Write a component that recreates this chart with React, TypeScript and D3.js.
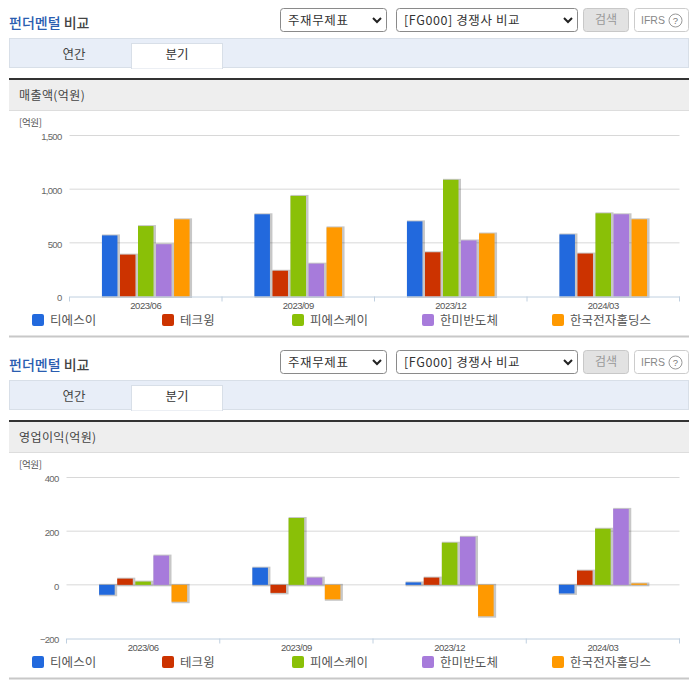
import * as d3 from 'd3';
import { useEffect, useRef } from 'react';

const periods = ['2023/06', '2023/09', '2023/12', '2024/03'];
const companies = ['티에스이', '테크윙', '피에스케이', '한미반도체', '한국전자홀딩스'];
const colors = ['#2269dd', '#cc3300', '#8ac007', '#a77bdb', '#ff9900'];

// 매출액 per company, same order as periods
const salesTse = [569, 766, 700, 578];
const salesTechwing = [390, 240, 412, 400];
const salesPsk = [656, 937, 1087, 775];
const salesHanmi = [487, 306, 522, 766];
const salesKec = [719, 644, 587, 719];
const salesTicks = [0, 500, 1000, 1500];

// 영업이익 per company
const profitTse = [-37, 64, 9, -32];
const profitTechwing = [23, -30, 27, 53];
const profitPsk = [12, 249, 157, 209];
const profitHanmi = [109, 27, 179, 283];
const profitKec = [-63, -54, -117, 5];
const profitTicks = [-200, 0, 200, 400];

const FONT = '"Noto Sans CJK KR", "Noto Sans", sans-serif';
const NUM_FONT = '"Liberation Sans", Arial, sans-serif';
const legendX = [32, 162, 292, 422, 552];

interface ChartProps {
  series: number[][];
  ticks: number[];
  left: number;
  top: number;
  bottom: number;
}

function BarChart({ series, ticks, left, top, bottom }: ChartProps) {
  const ref = useRef<SVGGElement>(null);

  useEffect(() => {
    if (!ref.current) {
      return;
    }
    const g = d3.select(ref.current);
    g.selectAll('*').remove();

    const right = 679.5;
    const x = d3.scaleBand<string>().domain(periods).range([left, right]);
    const inner = d3
      .scaleBand<string>()
      .domain(companies)
      .range([0, x.bandwidth()])
      .paddingInner(0.14)
      .paddingOuter(1.8);
    const y = d3
      .scaleLinear()
      .domain([ticks[0], ticks[ticks.length - 1]])
      .range([bottom, top]);

    // Grid lines
    g.append('g')
      .selectAll('line')
      .data(ticks.slice(1))
      .join('line')
      .attr('x1', left)
      .attr('x2', right)
      .attr('y1', (d) => y(d))
      .attr('y2', (d) => y(d))
      .attr('stroke', '#d8d8d8');

    // Y labels
    const yAxis = g
      .append('g')
      .attr('transform', `translate(${left - 8},0)`)
      .call(
        d3
          .axisLeft(y)
          .tickValues(ticks)
          .tickSize(0)
          .tickPadding(0)
          .tickFormat((d) => d3.format(',')(d as number))
      );
    yAxis.select('.domain').remove();
    yAxis
      .selectAll('text')
      .attr('fill', '#666')
      .attr('dy', '0.45em')
      .style('font-size', '9.5px')
      .style('letter-spacing', '-0.7px')
      .style('font-family', NUM_FONT);

    // Bars, one group per company
    series.forEach((values, i) => {
      const name = companies[i];
      const bars = g.append('g');
      const rows = values.map((value, j) => ({ value, period: periods[j] }));
      const barX = (d: { period: string }) =>
        (x(d.period) as number) + (inner(name) as number);
      const barTop = (d: { value: number }) => y(Math.max(d.value, 0));
      const barH = (d: { value: number }) => Math.abs(y(d.value) - y(0));

      bars
        .selectAll('rect.shadow')
        .data(rows)
        .join('rect')
        .attr('class', 'shadow')
        .attr('x', barX)
        .attr('y', (d) => barTop(d) - 1)
        .attr('width', inner.bandwidth() + 2.5)
        .attr('height', (d) => barH(d) + 2.5)
        .attr('fill', '#000')
        .attr('opacity', 0.22);

      bars
        .selectAll('rect.bar')
        .data(rows)
        .join('rect')
        .attr('class', 'bar')
        .attr('x', barX)
        .attr('y', barTop)
        .attr('width', inner.bandwidth())
        .attr('height', barH)
        .attr('fill', colors[i]);
    });

    // X axis with ticks at the band edges
    const xAxis = g
      .append('g')
      .attr('transform', `translate(0,${bottom})`)
      .call(d3.axisBottom(x).tickSize(0).tickPadding(6));
    xAxis.select('.domain').attr('stroke', '#c0d0e0');
    xAxis
      .selectAll('text')
      .attr('fill', '#555')
      .style('font-size', '9.5px')
      .style('letter-spacing', '-0.5px')
      .style('font-family', NUM_FONT);
    g.append('g')
      .selectAll('line')
      .data([...periods.map((p) => x(p) as number), right])
      .join('line')
      .attr('x1', (d) => d)
      .attr('x2', (d) => d)
      .attr('y1', bottom)
      .attr('y2', bottom + 5)
      .attr('stroke', '#c0d0e0');
  }, [series, ticks, left, top, bottom]);

  return <g ref={ref} />;
}

function Dropdown({ x, width, label }: { x: number; width: number; label: string }) {
  const ax = x + width - 10;
  return (
    <g>
      <rect x={x + 0.5} y={8.5} width={width - 1} height={23} rx={3} fill="#fff" stroke="#8a8a8a" />
      <text x={x + 8} y={24.5} fontSize={12.5} fill="#333" letterSpacing={0.6}>
        {label}
      </text>
      <path
        d={`M${ax - 4},18 L${ax},22 L${ax + 4},18`}
        fill="none"
        stroke="#222"
        strokeWidth={2}
      />
    </g>
  );
}

function Panel({ offset, heading, unitTop, children }: any) {
  return (
    <g transform={`translate(0,${offset})`}>
      <text x={9} y={28} fontSize={14} fontWeight={500}>
        <tspan fill="#2a5db0">펀더멘털</tspan>
        <tspan fill="#444"> 비교</tspan>
      </text>

      <Dropdown x={280} width={107} label="주재무제표" />
      <Dropdown x={396} width={182} label="[FG000] 경쟁사 비교" />
      <rect x={583.5} y={8.5} width={45} height={23} rx={3} fill="#e2e2e2" stroke="#c8c8c8" />
      <text x={606} y={24} fontSize={12} fill="#999" textAnchor="middle">
        검색
      </text>
      <rect x={634.5} y={8.5} width={54} height={23} rx={3} fill="#fff" stroke="#ccc" />
      <text x={641} y={24} fontSize={10.5} fill="#888" fontFamily={NUM_FONT}>
        IFRS
      </text>
      <circle cx={675.5} cy={20.5} r={6.5} fill="#fff" stroke="#999" />
      <text x={675.5} y={24} fontSize={9.5} fill="#777" textAnchor="middle" fontFamily={NUM_FONT}>
        ?
      </text>

      <rect x={9.5} y={38.5} width={679} height={29} fill="#e8eef8" stroke="#d8dfe8" />
      <rect x={131.5} y={43.5} width={91} height={25} fill="#fff" stroke="#d8dfe8" />
      <line x1={132} x2={222} y1={68} y2={68} stroke="#fff" />
      <text x={74} y={59} fontSize={12.5} fill="#444" textAnchor="middle">
        연간
      </text>
      <text x={177} y={59} fontSize={12.5} fill="#333" textAnchor="middle">
        분기
      </text>

      <rect x={9} y={80} width={680} height={30} fill="#eee" />
      <line x1={9} x2={689} y1={110.5} y2={110.5} stroke="#ddd" />
      <rect x={9} y={78} width={680} height={2} fill="#333" />
      <text x={19} y={99.5} fontSize={12} fill="#444" letterSpacing={0.4}>
        {heading}
      </text>

      <text x={19} y={unitTop} fontSize={9.5} fill="#555" letterSpacing={-0.3}>
        [억원]
      </text>

      {children}

      {companies.map((name, i) => (
        <g key={name}>
          <rect x={legendX[i]} y={314} width={12} height={12} rx={2} fill={colors[i]} />
          <text x={legendX[i] + 18} y={324.5} fontSize={12.5} fill="#555" letterSpacing={0.1}>
            {name}
          </text>
        </g>
      ))}

      <rect x={9} y={335.5} width={680} height={2} fill="#c8c8c8" />
    </g>
  );
}

const salesSeries = [salesTse, salesTechwing, salesPsk, salesHanmi, salesKec];
const profitSeries = [profitTse, profitTechwing, profitPsk, profitHanmi, profitKec];

export default function App() {
  return (
    <svg
      width={696}
      height={684}
      fontFamily={FONT}
      style={{ position: 'absolute', left: 0, top: 0, background: '#fff' }}
    >
      <Panel offset={0} heading="매출액(억원)" unitTop={126}>
        <BarChart series={salesSeries} ticks={salesTicks} left={69.5} top={135.5} bottom={296.5} />
      </Panel>
      <Panel offset={342} heading="영업이익(억원)" unitTop={126}>
        <BarChart series={profitSeries} ticks={profitTicks} left={66.5} top={135.5} bottom={296.5} />
      </Panel>
    </svg>
  );
}
